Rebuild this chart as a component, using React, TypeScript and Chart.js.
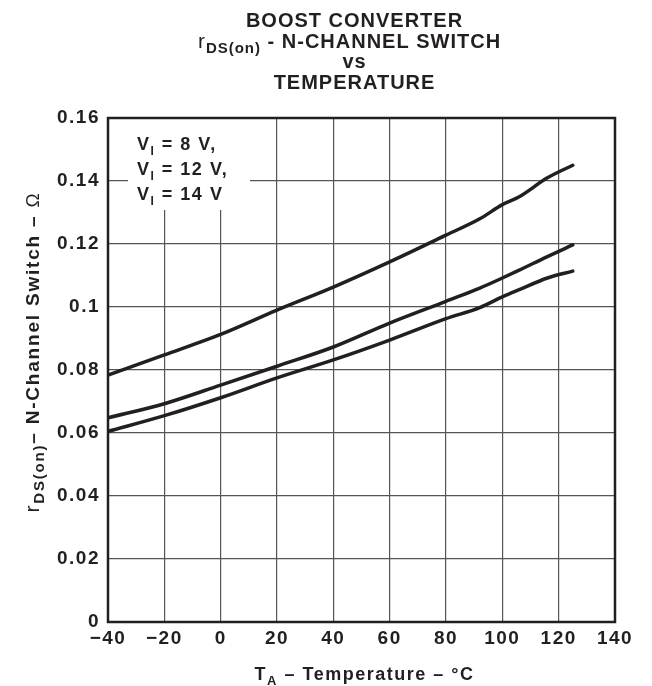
import React, { useEffect, useRef } from "react";
import { Chart, registerables } from "chart.js";

Chart.register(...registerables);

// ---- data ----
const temperatures = [-40, -20, 0, 20, 40, 60, 80, 92, 100, 106, 116, 125];
const rdsVin8 = [0.0784, 0.0848, 0.0913, 0.099, 0.1063, 0.1143, 0.1228, 0.128, 0.1325, 0.135, 0.141, 0.145];
const rdsVin12 = [0.0648, 0.0693, 0.0752, 0.0812, 0.0873, 0.0949, 0.1018, 0.106, 0.1092, 0.1117, 0.116, 0.1197];
const rdsVin14 = [0.0605, 0.0655, 0.0712, 0.0775, 0.0832, 0.0895, 0.0963, 0.0998, 0.1032, 0.1055, 0.1092, 0.1114];
const legendLines = ["8 V,", "12 V,", "14 V"];
const xMin = -40, xMax = 140, xStep = 20;
const yMin = 0, yMax = 0.16, yStep = 0.02;

const FONT = '"Liberation Sans", Arial, Helvetica, sans-serif';
const INK = "#231f20";

type Part = { text: string; size: number; dy?: number; weight?: string };

function drawRich(ctx: CanvasRenderingContext2D, parts: Part[], x: number, y: number, align: "left" | "center") {
  let total = 0;
  const widths: number[] = [];
  for (const p of parts) {
    ctx.font = `${p.weight ?? "bold"} ${p.size}px ${FONT}`;
    const w = ctx.measureText(p.text).width;
    widths.push(w);
    total += w;
  }
  let cx = align === "center" ? x - total / 2 : x;
  parts.forEach((p, i) => {
    ctx.font = `${p.weight ?? "bold"} ${p.size}px ${FONT}`;
    ctx.fillText(p.text, cx, y + (p.dy ?? 0));
    cx += widths[i];
  });
}

const decorPlugin = {
  id: "decor",
  beforeUpdate(chart: any) {
    chart.ctx.letterSpacing = "1.5px";
  },
  beforeDraw(chart: any) {
    chart.ctx.letterSpacing = "1.5px";
  },
  beforeDatasetsDraw(chart: any) {
    const ctx: CanvasRenderingContext2D = chart.ctx;
    const { left, top } = chart.chartArea;
    ctx.save();
    ctx.fillStyle = "#ffffff";
    ctx.fillRect(left + 20, top + 1, 122, 91);
    ctx.fillStyle = INK;
    ctx.textAlign = "left";
    ctx.textBaseline = "alphabetic";
    ctx.letterSpacing = "1.5px";
    legendLines.forEach((t, i) => {
      drawRich(
        ctx,
        [
          { text: "V", size: 18 },
          { text: "I", size: 12, dy: 5 },
          { text: " = " + t, size: 18 },
        ],
        left + 29,
        top + 32 + i * 25,
        "left"
      );
    });
    ctx.restore();
  },
  afterDatasetsDraw(chart: any) {
    const ctx: CanvasRenderingContext2D = chart.ctx;
    const { left, top, right, bottom } = chart.chartArea;
    ctx.save();
    ctx.strokeStyle = INK;
    ctx.lineWidth = 2.5;
    ctx.strokeRect(left, top, right - left, bottom - top);
    ctx.restore();
  },
  afterDraw(chart: any) {
    const ctx: CanvasRenderingContext2D = chart.ctx;
    const { left, right, top, bottom } = chart.chartArea;
    const cxPlot = (left + right) / 2;
    ctx.save();
    ctx.fillStyle = INK;
    ctx.textBaseline = "alphabetic";
    ctx.letterSpacing = "1px";
    // title
    drawRich(ctx, [{ text: "BOOST CONVERTER", size: 20 }], cxPlot - 7, 27, "center");
    drawRich(
      ctx,
      [
        { text: "r", size: 21, weight: "normal" },
        { text: "DS(on)", size: 15, dy: 5 },
        { text: " - N-CHANNEL SWITCH", size: 20 },
      ],
      cxPlot - 12,
      48,
      "center"
    );
    drawRich(ctx, [{ text: "vs", size: 20 }], cxPlot - 7, 68, "center");
    drawRich(ctx, [{ text: "TEMPERATURE", size: 20 }], cxPlot - 7, 89, "center");
    // x axis title
    ctx.letterSpacing = "1.5px";
    drawRich(
      ctx,
      [
        { text: "T", size: 18 },
        { text: "A", size: 13, dy: 5 },
        { text: " – Temperature – °C", size: 18 },
      ],
      cxPlot + 3,
      680,
      "center"
    );
    // y axis title
    ctx.letterSpacing = "1.8px";
    ctx.translate(39, (top + bottom) / 2 - 18);
    ctx.rotate(-Math.PI / 2);
    drawRich(
      ctx,
      [
        { text: "r", size: 21, weight: "normal" },
        { text: "DS(on)", size: 15, dy: 5 },
        { text: "– N-Channel Switch – ", size: 19 },
        { text: "Ω", size: 19, weight: "normal" },
      ],
      0,
      0,
      "center"
    );
    ctx.restore();
  },
};

function fmtY(v: number) {
  return String(Number(v.toFixed(2)));
}

function fmtX(v: number) {
  return v < 0 ? "\u2212" + Math.abs(v) : String(v);
}

export default function App() {
  const ref = useRef<HTMLCanvasElement | null>(null);
  useEffect(() => {
    if (!ref.current) return;
    const mk = (vals: number[]) => temperatures.map((t, i) => ({ x: t, y: vals[i] }));
    const lineStyle = {
      borderColor: INK,
      borderWidth: 3.5,
      pointRadius: 0,
      fill: false,
      cubicInterpolationMode: "monotone" as const,
      borderCapStyle: "round" as const,
    };
    const chart = new Chart(ref.current, {
      type: "line",
      data: {
        datasets: [
          { label: "VI = 8 V", data: mk(rdsVin8), ...lineStyle },
          { label: "VI = 12 V", data: mk(rdsVin12), ...lineStyle },
          { label: "VI = 14 V", data: mk(rdsVin14), ...lineStyle },
        ],
      },
      options: {
        responsive: false,
        animation: false,
        layout: { padding: { top: 118, left: 0, right: 37, bottom: 0 } },
        plugins: { legend: { display: false }, tooltip: { enabled: false }, title: { display: false } },
        scales: {
          x: {
            type: "linear",
            min: xMin,
            max: xMax,
            afterFit: (s: any) => {
              s.height = 64;
            },
            grid: { color: "#555", lineWidth: 1.2, drawTicks: false },
            border: { display: false },
            ticks: {
              stepSize: xStep,
              padding: 5,
              color: INK,
              maxRotation: 0,
              autoSkip: false,
              font: { family: FONT, size: 19, weight: "bold" },
              callback: (v: any) => fmtX(Number(v)),
            },
          },
          y: {
            type: "linear",
            min: yMin,
            max: yMax,
            afterFit: (s: any) => {
              s.width = 108;
            },
            grid: { color: "#555", lineWidth: 1.2, drawTicks: false },
            border: { display: false },
            ticks: {
              stepSize: yStep,
              padding: 8,
              color: INK,
              autoSkip: false,
              font: { family: FONT, size: 19, weight: "bold" },
              callback: (v: any) => fmtY(Number(v)),
            },
          },
        },
      },
      plugins: [decorPlugin],
    });
    return () => chart.destroy();
  }, []);
  return (
    <canvas
      ref={ref}
      width={652}
      height={686}
      style={{ position: "fixed", left: 0, top: 0, display: "block", width: 652, height: 686 }}
    />
  );
}
